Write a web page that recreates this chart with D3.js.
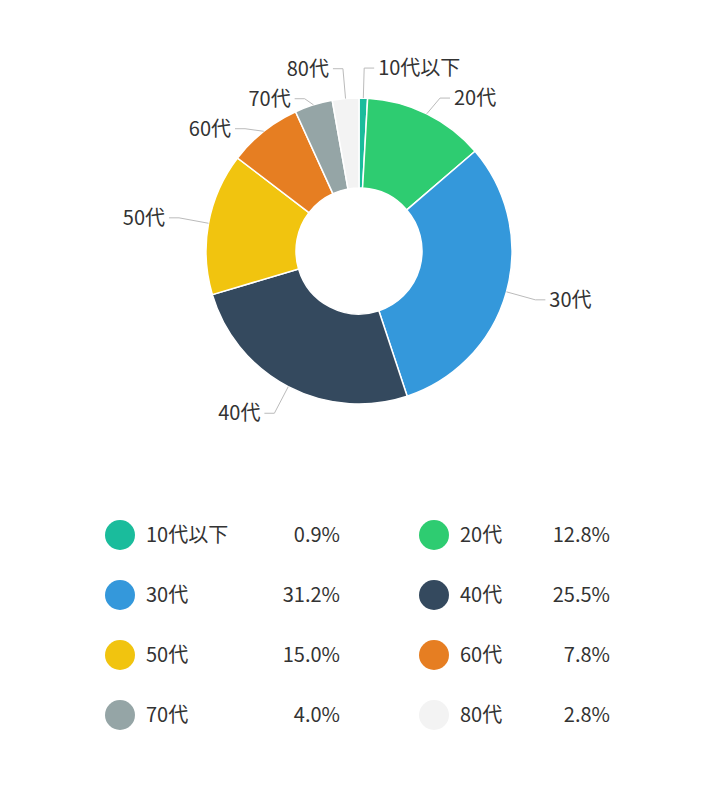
<!DOCTYPE html>
<html><head><meta charset="utf-8">
<script src="https://cdn.jsdelivr.net/npm/d3@7"></script>
<style>body{margin:0;background:#fff;font-family:"Noto Sans CJK JP",sans-serif;}</style>
</head><body><div class="chart"></div>
<script>
var labels = ['10代以下', '20代', '30代', '40代', '50代', '60代', '70代', '80代'];
var values = [0.9, 12.8, 31.2, 25.5, 15.0, 7.8, 4.0, 2.8];
var colors = ['#1abc9c', '#2ecc71', '#3498db', '#34495e', '#f1c40f', '#e67e22', '#95a5a6', '#f3f3f3'];

var width = 716, height = 800,
    cx = 359, cy = 251,
    outer = 153, inner = 63;

var svg = d3.select('.chart').append('svg')
    .attr('width', width).attr('height', height);

var pie = d3.pie().sort(null).value(function(d) { return d; });
var arcs = pie(values);
var arc = d3.arc().innerRadius(inner).outerRadius(outer);

var g = svg.append('g').attr('transform', 'translate(' + cx + ',' + cy + ')');
g.selectAll('path').data(arcs).enter().append('path')
    .attr('d', arc)
    .attr('fill', function(d, i) { return colors[i]; })
    .attr('stroke', '#fff').attr('stroke-width', 1.5);

// label positions, pushed apart vertically per side
var lab = arcs.map(function(d, i) {
    var a = (d.startAngle + d.endAngle) / 2;
    return {i: i, a: a, right: Math.sin(a) >= 0,
        x0: Math.sin(a) * outer, y0: -Math.cos(a) * outer,
        x1: Math.sin(a) * (outer + 30), y: -Math.cos(a) * (outer + 30)};
});
[true, false].forEach(function(side) {
    var s = lab.filter(function(l) { return l.right === side; })
        .sort(function(a, b) { return a.y - b.y; });
    for (var k = 1; k < s.length; k++) {
        if (s[k].y < s[k - 1].y + 30) s[k].y = s[k - 1].y + 30;
    }
});

lab.forEach(function(l) {
    var dir = l.right ? 1 : -1;
    g.append('polyline')
        .attr('points', [[l.x0, l.y0], [l.x1, l.y], [l.x1 + dir * 10, l.y]].join(' '))
        .attr('fill', 'none').attr('stroke', '#bbb').attr('stroke-width', 1);
    g.append('text')
        .attr('x', l.x1 + dir * 14).attr('y', l.y)
        .attr('dy', '0.35em')
        .attr('text-anchor', l.right ? 'start' : 'end')
        .attr('font-size', 20).attr('fill', '#333')
        .text(labels[l.i]);
});

// legend
var legend = svg.append('g');
labels.forEach(function(name, i) {
    var col = i % 2, row = Math.floor(i / 2);
    var x = col ? 434 : 120, y = 535 + row * 60;
    legend.append('circle').attr('cx', x).attr('cy', y).attr('r', 15).attr('fill', colors[i]);
    legend.append('text').attr('x', x + 26).attr('y', y).attr('dy', '0.35em')
        .attr('font-size', 20).attr('fill', '#333').text(name);
    legend.append('text').attr('x', col ? 610 : 340).attr('y', y).attr('dy', '0.35em')
        .attr('text-anchor', 'end')
        .attr('font-size', 20).attr('fill', '#333').text(values[i].toFixed(1) + '%');
});
</script>
</body></html>
